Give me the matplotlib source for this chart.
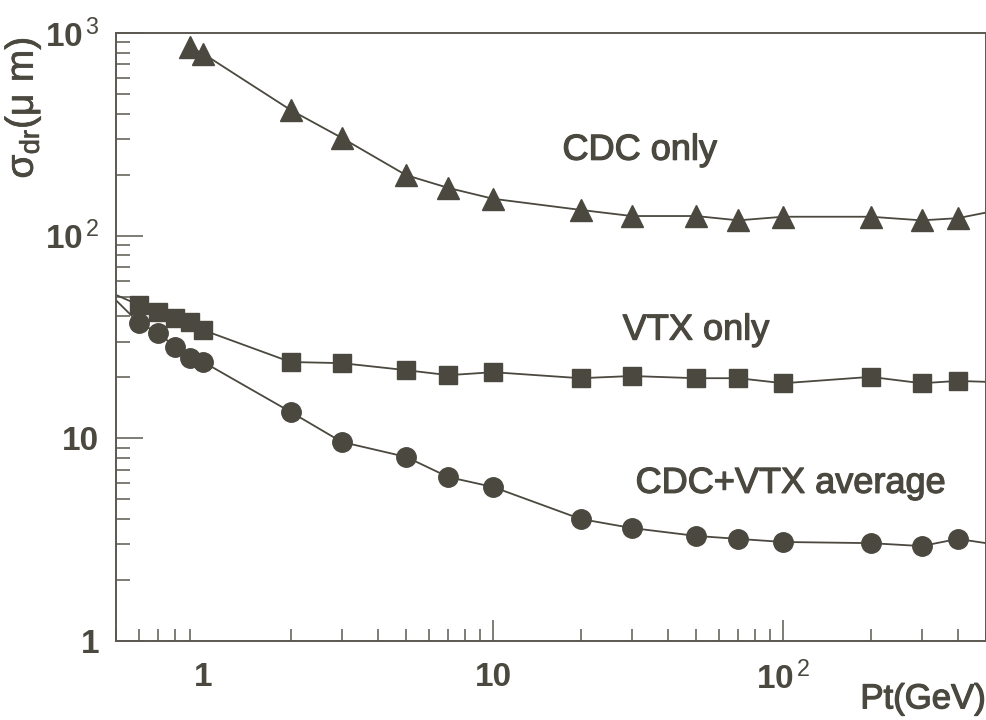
import matplotlib
matplotlib.use("Agg")
import matplotlib.pyplot as plt
import matplotlib.patheffects as pe
from matplotlib.ticker import LogLocator, FixedFormatter, FixedLocator, NullFormatter

plt.rcParams["font.family"] = ["Liberation Sans", "DejaVu Sans"]
plt.rcParams["mathtext.fontset"] = "custom"
plt.rcParams["mathtext.rm"] = "Liberation Sans:bold"
plt.rcParams["mathtext.it"] = "Liberation Sans:bold"
plt.rcParams["mathtext.bf"] = "Liberation Sans:bold"
plt.rcParams["mathtext.sf"] = "Liberation Sans"

# transverse momentum points (GeV)
pt = [0.6, 0.7, 0.8, 0.9, 1.0, 2, 3, 5, 7, 10, 20, 30, 50, 70, 100, 200, 300, 400]
pt_cdc = [0.9, 1.0, 2, 3, 5, 7, 10, 20, 30, 50, 70, 100, 200, 300, 400]

# impact parameter resolution sigma_dr (um)
cdc_only = [850, 790, 417, 304, 199, 172, 152, 134, 125, 125, 119, 124, 124, 119, 122]
vtx_only = [45.5, 42.0, 39.2, 37.5, 34.2, 23.8, 23.5, 21.7, 20.5, 21.2,
            19.8, 20.3, 19.8, 19.8, 18.7, 20.1, 18.7, 19.2]
cdc_vtx_avg = [37.1, 33.1, 28.2, 24.9, 23.8, 13.5, 9.6, 8.1, 6.44, 5.75,
               4.0, 3.61, 3.30, 3.19, 3.08, 3.04, 2.94, 3.19]

# curve continuation to the frame edges
edge_pt = [0.5, 500]
vtx_edge = [51, 19.0]
avg_edge = [48, 3.04]
cdc_edge_hi = 130

ink = "#4a483f"
frame = "#5a5850"
heavier = [pe.withStroke(linewidth=0.9, foreground=ink)]
medium = [pe.withStroke(linewidth=0.5, foreground=ink)]

fig = plt.figure(figsize=(9.87, 7.2), dpi=100)
ax = fig.add_axes([116 / 987, 1 - 641 / 720, 870 / 987, 608 / 720])
ax.set_xscale("log")
ax.set_yscale("log")
ax.set_xlim(0.5, 500)
ax.set_ylim(1, 1000)

line_kw = dict(color=ink, lw=1.3, zorder=2)
ax.plot(pt_cdc + [edge_pt[1]], cdc_only + [cdc_edge_hi], **line_kw)
ax.plot([edge_pt[0]] + pt + [edge_pt[1]], [vtx_edge[0]] + vtx_only + [vtx_edge[1]], **line_kw)
ax.plot([edge_pt[0]] + pt + [edge_pt[1]], [avg_edge[0]] + cdc_vtx_avg + [avg_edge[1]], **line_kw)

ax.plot(pt_cdc, cdc_only, ls="none", marker="^", ms=16, color=ink, mec=ink, zorder=3)
ax.plot(pt, vtx_only, ls="none", marker="s", ms=13.5, color=ink, mec=ink, zorder=3)
ax.plot(pt, cdc_vtx_avg, ls="none", marker="o", ms=14, color=ink, mec=ink, zorder=3)

# axis decorations
for s in ax.spines.values():
    s.set_color(frame)
    s.set_linewidth(1.4)

ax.xaxis.set_major_locator(FixedLocator([1, 10, 100]))
ax.xaxis.set_major_formatter(FixedFormatter(["1", "10", r"$10^{\,\mathsf{2}}$"]))
ax.xaxis.set_minor_locator(LogLocator(base=10, subs=range(2, 10), numticks=20))
ax.xaxis.set_minor_formatter(NullFormatter())
ax.yaxis.set_major_locator(FixedLocator([1, 10, 100, 1000]))
ax.yaxis.set_major_formatter(FixedFormatter(["1", "10", r"$10^{\,\mathsf{2}}$", r"$10^{\,\mathsf{3}}$"]))
ax.yaxis.set_minor_locator(LogLocator(base=10, subs=range(2, 10), numticks=20))
ax.yaxis.set_minor_formatter(NullFormatter())

ax.tick_params(which="both", direction="in", color=frame, width=1.1,
               labelcolor=ink, top=False, right=False)
ax.tick_params(axis="y", which="major", length=19.5, pad=12)
ax.tick_params(axis="y", which="minor", length=10)
ax.tick_params(axis="x", which="major", length=15, pad=15)
ax.tick_params(axis="x", which="minor", length=8.5)
for lab in ax.get_xticklabels() + ax.get_yticklabels():
    lab.set_fontsize(24)
    lab.set_fontweight("bold")
# the unit tick on the x axis carries only its label
ax.xaxis.get_major_ticks()[0].tick1line.set_visible(False)

ax.set_ylabel(r"$\mathsf{σ_{dr}(μ\ m)}$", fontsize=28, color=ink, loc="top",
              path_effects=medium)
ax.yaxis.set_label_coords(-0.084, 0.993)
ax.set_xlabel("Pt(GeV)", fontsize=25, color=ink, loc="right", path_effects=heavier)
ax.xaxis.set_label_coords(1.0, -0.068)

txt_kw = dict(fontsize=26, color=ink, ha="center", va="center", path_effects=heavier)
ax.text(32, 264, "CDC only", **txt_kw)
ax.text(50, 34.2, "VTX only", **txt_kw)
ax.text(106, 6.0, "CDC+VTX average", **txt_kw)

fig.savefig("out.png", dpi=100)
